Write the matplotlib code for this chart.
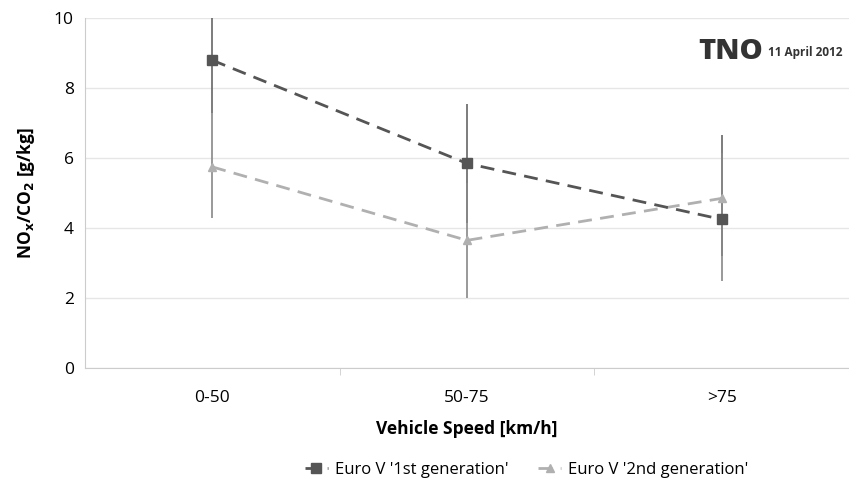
import numpy as np
import matplotlib.pyplot as plt

speeds = ['0-50', '50-75', '>75']
gen1 = [8.8, 5.85, 4.25]
gen1_lo = [1.5, 1.7, 1.05]
gen1_hi = [1.6, 1.7, 2.4]
gen2 = [5.75, 3.65, 4.85]
gen2_lo = [1.45, 1.65, 2.35]
gen2_hi = [1.55, 1.65, 1.3]

plt.rcParams['font.family'] = ['Open Sans', 'DejaVu Sans']

fig = plt.figure(figsize=(8.49, 4.93), dpi=100)
ax = fig.add_axes([0.1, 0.2535, 0.9, 0.7095])
x = np.arange(len(speeds))

# error bars first, then the dashed series on top (keeps the legend clean)
ax.errorbar(x, gen1, yerr=[gen1_lo, gen1_hi], fmt='none', ecolor='#666666',
            elinewidth=1.2, capsize=0, zorder=2)
ax.errorbar(x, gen2, yerr=[gen2_lo, gen2_hi], fmt='none', ecolor='#888888',
            elinewidth=1.2, capsize=0, zorder=2)
ax.plot(x, gen2, color='#b0b0b0', linestyle=(0, (5, 3)), linewidth=2, marker='^',
        markersize=6, label="Euro V '2nd generation'", zorder=3)
ax.plot(x, gen1, color='#555555', linestyle=(0, (5, 3)), linewidth=2, marker='s',
        markersize=7, label="Euro V '1st generation'", zorder=4)

ax.set_xlim(-0.5, 2.5)
ax.set_ylim(0, 10)
ax.set_xticks(x)
ax.set_xticklabels(speeds, fontsize=12.5)
ax.set_yticks(range(0, 11, 2))
ax.tick_params(axis='y', labelsize=12.5, length=0, pad=8)
ax.tick_params(axis='x', length=0, pad=16)
ax.set_xticks([0.5, 1.5], minor=True)
ax.tick_params(axis='x', which='minor', length=5, color='#cccccc')
ax.grid(axis='y', color='#e6e6e6', linewidth=1)
for s in ['top', 'right']:
    ax.spines[s].set_visible(False)
for s in ['left', 'bottom']:
    ax.spines[s].set_color('#cccccc')

ax.set_xlabel('Vehicle Speed [km/h]', fontsize=12.5, fontweight='bold', labelpad=10)
ax.set_ylabel(r'NO$_\mathbf{x}$/CO$_\mathbf{2}$ [g/kg]', fontsize=12.5, fontweight='bold',
              labelpad=12)

fig.text(0.823, 0.895, 'TNO', fontsize=21, fontweight='heavy', color='#333333',
         ha='left', va='center')
fig.text(0.905, 0.893, '11 April 2012', fontsize=8.5, fontweight='bold', color='#333333',
         ha='left', va='center')

handles, labels = ax.get_legend_handles_labels()
fig.legend(handles[::-1], labels[::-1], loc='lower center', bbox_to_anchor=(0.62, 0.0),
           ncol=2, frameon=False, fontsize=12, handlelength=1.4, handletextpad=0.4,
           columnspacing=1.8)

fig.savefig('out.png', dpi=100)
